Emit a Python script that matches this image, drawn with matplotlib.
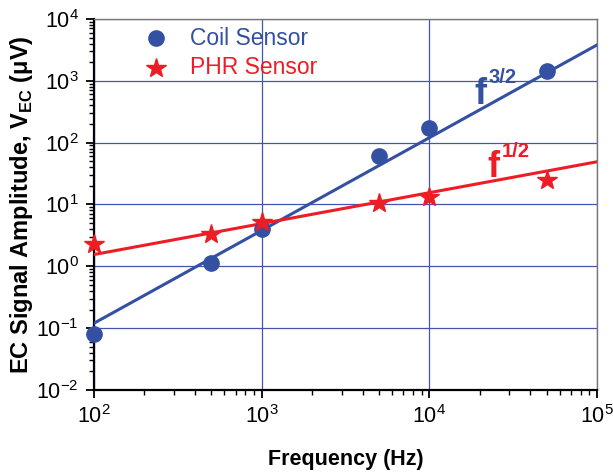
import matplotlib
matplotlib.use('Agg')
import numpy as np
import matplotlib.pyplot as plt
from matplotlib.ticker import LogLocator, NullFormatter

plt.rcParams['font.family'] = ['Liberation Sans', 'DejaVu Sans']
plt.rcParams['axes.unicode_minus'] = False

# measured data
freq = [100, 500, 1000, 5000, 10000, 50000]
coil = [0.08, 1.15, 4.0, 60, 170, 1450]
phr = [2.3, 3.3, 5.3, 10.5, 13, 25]

# fitted power-law lines (end points)
fit_freq = [100, 100000]
coil_fit = [0.12, 3800]
phr_fit = [1.55, 49]

BLUE = '#3350a3'
RED = '#ee1c24'
GRID = '#4455b0'

fig = plt.figure(figsize=(6.13, 4.73), dpi=100)
ax = fig.add_axes([0.1533, 0.1755, 0.8207, 0.7845])
ax.set_xscale('log')
ax.set_yscale('log')
ax.set_xlim(1e2, 1e5)
ax.set_ylim(1e-2, 1e4)

ax.grid(True, which='major', color=GRID, lw=0.9)
ax.set_axisbelow(True)

ax.plot(fit_freq, coil_fit, color=BLUE, lw=2.2, zorder=3)
ax.plot(fit_freq, phr_fit, color=RED, lw=2.2, zorder=3)
ax.plot(freq, coil, 'o', color=BLUE, ms=11, zorder=4, clip_on=False)
ax.plot(freq, phr, '*', color=RED, ms=15, zorder=4, clip_on=False)

# legend drawn by hand to mimic the original
ax.plot([235], [4900], 'o', color=BLUE, ms=11)
ax.plot([235], [1620], '*', color=RED, ms=15)
ax.text(372, 4900, 'Coil Sensor', color=BLUE, fontsize=16.5, va='center')
ax.text(372, 1620, 'PHR Sensor', color=RED, fontsize=16.5, va='center')

# power law labels
ax.text(20200, 427, 'f', color=BLUE, fontsize=26, fontweight='bold', ha='center', va='baseline')
ax.text(22600, 929, '3/2', color=BLUE, fontsize=14.5, fontweight='bold', ha='left', va='baseline')
ax.text(24200, 28, 'f', color=RED, fontsize=26, fontweight='bold', ha='center', va='baseline')
ax.text(27000, 59, '1/2', color=RED, fontsize=14.5, fontweight='bold', ha='left', va='baseline')

ax.xaxis.set_minor_locator(LogLocator(base=10, subs=np.arange(2, 10), numticks=20))
ax.yaxis.set_minor_locator(LogLocator(base=10, subs=np.arange(2, 10), numticks=20))
ax.xaxis.set_minor_formatter(NullFormatter())
ax.yaxis.set_minor_formatter(NullFormatter())
ax.tick_params(which='major', direction='out', length=6, width=1.3, labelsize=15.5, pad=5)
ax.tick_params(which='minor', direction='out', length=3.5, width=1.0)
ax.tick_params(top=False, right=False)

for side in ['left', 'bottom']:
    ax.spines[side].set_linewidth(1.6)
    ax.spines[side].set_color('black')
for side in ['top', 'right']:
    ax.spines[side].set_linewidth(1.0)
    ax.spines[side].set_color('#777777')

ax.set_xlabel('Frequency (Hz)', fontsize=15.5, fontweight='bold', labelpad=15)
ax.set_ylabel(r'EC Signal Amplitude, V$_{\mathregular{EC}}$ ($\mathregular{\mu}$V)',
              fontsize=17, fontweight='bold', labelpad=1)

fig.savefig('out.png', dpi=100)
